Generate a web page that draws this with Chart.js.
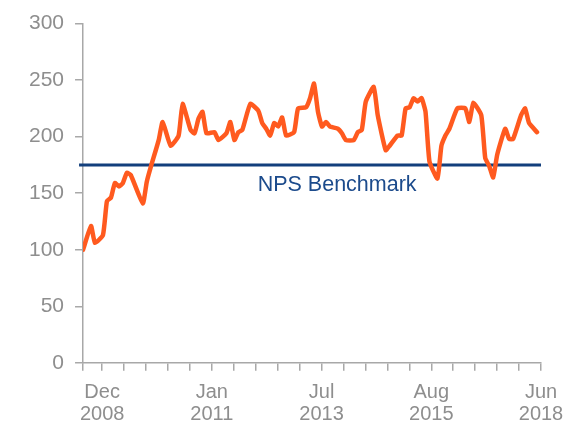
<!DOCTYPE html>
<html>
<head>
<meta charset="utf-8">
<script src="https://cdn.jsdelivr.net/npm/chart.js@4.4.0/dist/chart.umd.min.js"></script>
<style>
  html, body { margin: 0; padding: 0; background: #fff; }
</style>
</head>
<body>
<canvas id="npsChart" width="581" height="427"></canvas>
<script>
// monthly readings (only the turning points are listed)
const months = [
  "2008-12","2009-02","2009-03","2009-05","2009-06","2009-07","2009-08","2009-09","2009-10","2009-11",
  "2009-12","2010-03","2010-04","2010-05","2010-07","2010-08","2010-10","2010-12","2011-01","2011-03",
  "2011-04","2011-05","2011-06","2011-07","2011-09","2011-10","2011-12","2012-01","2012-02","2012-03",
  "2012-04","2012-06","2012-08","2012-09","2012-10","2012-11","2012-12","2013-01","2013-02","2013-03",
  "2013-05","2013-06","2013-08","2013-09","2013-10","2013-11","2013-12","2014-01","2014-02","2014-04",
  "2014-05","2014-06","2014-08","2014-09","2014-10","2014-11","2015-01","2015-02","2015-04","2015-05",
  "2015-07","2015-08","2015-09","2015-10","2015-11","2015-12","2016-01","2016-02","2016-03","2016-05",
  "2016-06","2016-07","2016-08","2016-10","2016-12","2017-01","2017-02","2017-04","2017-05","2017-06",
  "2017-07","2017-08","2017-10","2017-11","2017-12","2018-02","2018-03","2018-04","2018-06"
];
const nps = [
  100,121,106,113,143,146,159,156,159,168,
  166,141,160,173,197,213,192,201,229,206,
  203,216,222,203,204,197,203,213,197,204,
  206,229,223,212,207,201,212,209,217,201,
  204,225,226,234,247,222,209,213,209,207,
  203,197,197,204,206,231,244,219,188,192,
  201,201,225,226,234,231,234,222,178,163,
  192,201,207,225,225,213,230,219,181,174,
  164,184,207,198,198,219,225,212,204
];
const benchmark = 175;
const benchmarkLabel = "NPS Benchmark";
const tickLabels = ["Dec 2008", "Jan 2011", "Jul 2013", "Aug 2015", "Jun 2018"];

const grey = "#8e8e8e";
const axisGrey = "#a8a8a8";
const navy = "#133f7c";
const orange = "#ff5a1f";
const fontFamily = "'Liberation Sans', Arial, sans-serif";

// months since Dec 2008
function monthIndex(s) {
  const [y, m] = s.split("-").map(Number);
  return (y - 2008) * 12 + (m - 12);
}

const xMax = 115;
const firstTick = 4.8, tickStep = 5.51, tickCount = 21;
const tickValues = [0];
for (let i = 0; i < tickCount; i++) tickValues.push(firstTick + i * tickStep);

const benchmarkText = {
  id: "benchmarkText",
  afterDatasetsDraw(chart) {
    const { ctx, scales } = chart;
    ctx.save();
    ctx.font = "21.5px " + fontFamily;
    ctx.fillStyle = "#1c4b8c";
    ctx.textAlign = "center";
    ctx.textBaseline = "middle";
    ctx.fillText(benchmarkLabel, scales.x.getPixelForValue(63.8), scales.y.getPixelForValue(157));
    ctx.restore();
  }
};

new Chart(document.getElementById("npsChart"), {
  type: "line",
  data: {
    datasets: [
      {
        data: months.map((m, i) => ({ x: monthIndex(m), y: nps[i] })),
        borderColor: orange,
        borderWidth: 4.5,
        pointRadius: 0,
        tension: 0.15,
        borderJoinStyle: "round",
        borderCapStyle: "round"
      },
      {
        data: [{ x: -1, y: benchmark }, { x: xMax, y: benchmark }],
        borderColor: navy,
        borderWidth: 3,
        pointRadius: 0,
        clip: false
      }
    ]
  },
  options: {
    responsive: false,
    animation: false,
    layout: { padding: { left: 18, top: 16, right: 40, bottom: -9 } },
    plugins: { legend: { display: false }, tooltip: { enabled: false } },
    scales: {
      x: {
        type: "linear",
        min: 0,
        max: xMax,
        afterBuildTicks: scale => { scale.ticks = tickValues.map(v => ({ value: v })); },
        grid: { drawOnChartArea: false, tickLength: 8, color: axisGrey, lineWidth: 1.5 },
        border: { color: axisGrey, width: 1.5 },
        ticks: {
          autoSkip: false,
          maxRotation: 0,
          color: grey,
          padding: 11,
          font: { family: fontFamily, size: 20, lineHeight: 1.08 },
          callback: (v, i) => (i > 0 && (i - 1) % 5 === 0) ? tickLabels[(i - 1) / 5].split(" ") : ""
        }
      },
      y: {
        min: 0,
        max: 300,
        grid: { drawOnChartArea: false, tickLength: 8, color: axisGrey, lineWidth: 1.5 },
        border: { color: axisGrey, width: 1.5 },
        ticks: {
          stepSize: 50,
          color: grey,
          padding: 11,
          font: { family: fontFamily, size: 21 }
        }
      }
    }
  },
  plugins: [benchmarkText]
});
</script>
</body>
</html>
